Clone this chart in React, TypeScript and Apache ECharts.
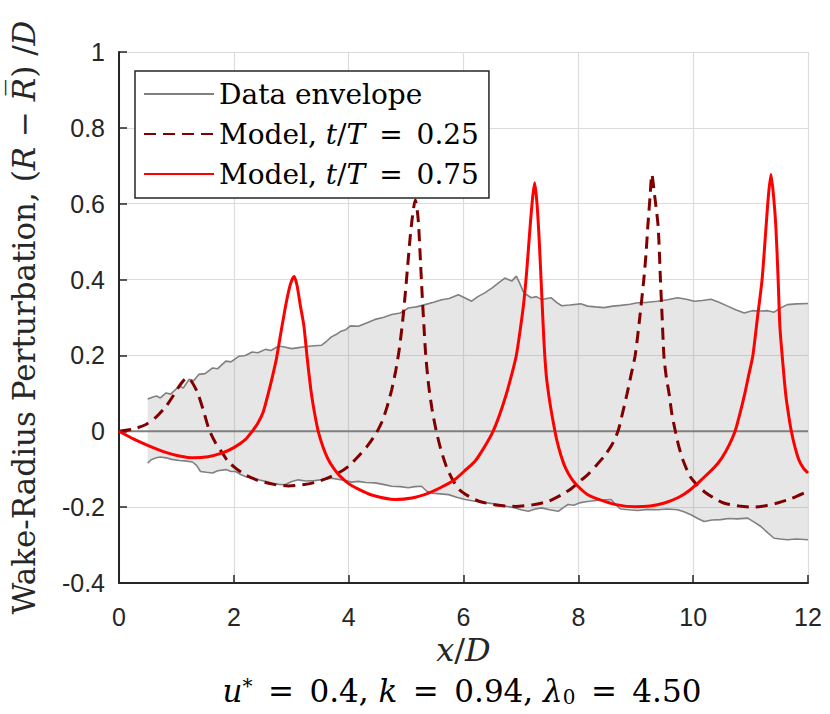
import React, { useEffect, useRef } from 'react';
import * as echarts from 'echarts';

// axis ranges
const X_MIN = 0;
const X_MAX = 12;
const X_STEP = 2;
const Y_MIN = -0.4;
const Y_MAX = 1;
const Y_STEP = 0.2;

const legendNames = ['Data envelope', 'Model, t/T = 0.25', 'Model, t/T = 0.75'];

// Upper edge of data envelope [x/D, value]
const envelopeUpper: [number, number][] = [
  [0.5, 0.085], [0.58, 0.09], [0.65, 0.093], [0.72, 0.088], [0.82, 0.101], [0.9, 0.098], [0.97, 0.108],
  [1.05, 0.119], [1.12, 0.114], [1.22, 0.137], [1.3, 0.133], [1.39, 0.15], [1.5, 0.152], [1.63, 0.167],
  [1.72, 0.165], [1.86, 0.185], [1.95, 0.183], [2.09, 0.198], [2.2, 0.2], [2.32, 0.209], [2.42, 0.207],
  [2.55, 0.216], [2.65, 0.213], [2.78, 0.225], [2.88, 0.222], [3.01, 0.218], [3.1, 0.22], [3.24, 0.223],
  [3.35, 0.225], [3.53, 0.227], [3.62, 0.238], [3.7, 0.249], [3.78, 0.255], [3.87, 0.264], [3.95, 0.268],
  [4.03, 0.278], [4.17, 0.277], [4.3, 0.285], [4.46, 0.295], [4.6, 0.3], [4.75, 0.308], [4.9, 0.312],
  [5.04, 0.325], [5.18, 0.328], [5.33, 0.334], [5.48, 0.34], [5.62, 0.347], [5.75, 0.35], [5.91, 0.36],
  [6.02, 0.352], [6.14, 0.343], [6.25, 0.355], [6.37, 0.365], [6.5, 0.378], [6.61, 0.391], [6.72, 0.404],
  [6.84, 0.396], [6.92, 0.409], [6.98, 0.39], [7.04, 0.369], [7.1, 0.36], [7.18, 0.352], [7.27, 0.355],
  [7.36, 0.347], [7.45, 0.35], [7.53, 0.352], [7.62, 0.34], [7.71, 0.331], [7.85, 0.333], [8.04, 0.336],
  [8.16, 0.33], [8.3, 0.328], [8.45, 0.326], [8.6, 0.33], [8.74, 0.332], [8.9, 0.335], [9.03, 0.339],
  [9.2, 0.34], [9.38, 0.343], [9.55, 0.347], [9.73, 0.352], [9.88, 0.348], [10.02, 0.343], [10.16, 0.345],
  [10.31, 0.348], [10.45, 0.34], [10.6, 0.33], [10.75, 0.32], [10.89, 0.312], [11.03, 0.318], [11.18, 0.317],
  [11.3, 0.318], [11.41, 0.314], [11.52, 0.325], [11.64, 0.334], [11.8, 0.336], [12, 0.337],
];

// Lower edge of data envelope [x/D, value]
const envelopeLower: [number, number][] = [
  [0.5, -0.084], [0.56, -0.075], [0.65, -0.07], [0.72, -0.068], [0.82, -0.07], [0.92, -0.074], [1.05, -0.077],
  [1.15, -0.078], [1.28, -0.081], [1.35, -0.09], [1.42, -0.106], [1.52, -0.108], [1.63, -0.11], [1.72, -0.104],
  [1.86, -0.101], [1.95, -0.106], [2.03, -0.106], [2.12, -0.114], [2.2, -0.119], [2.32, -0.124], [2.43, -0.128],
  [2.55, -0.132], [2.66, -0.137], [2.78, -0.14], [2.89, -0.141], [3.0, -0.133], [3.12, -0.128], [3.25, -0.131],
  [3.41, -0.13], [3.55, -0.127], [3.7, -0.124], [3.88, -0.128], [4.05, -0.134], [4.17, -0.132], [4.3, -0.135],
  [4.46, -0.136], [4.6, -0.14], [4.75, -0.145], [4.9, -0.146], [5.04, -0.149], [5.15, -0.146], [5.27, -0.145],
  [5.36, -0.158], [5.45, -0.163], [5.6, -0.165], [5.74, -0.167], [5.88, -0.174], [6.03, -0.18], [6.17, -0.184],
  [6.32, -0.187], [6.47, -0.19], [6.61, -0.193], [6.75, -0.198], [6.9, -0.202], [7.0, -0.207], [7.13, -0.211],
  [7.25, -0.205], [7.36, -0.202], [7.5, -0.207], [7.65, -0.211], [7.75, -0.2], [7.82, -0.193], [7.92, -0.195],
  [8.04, -0.188], [8.16, -0.185], [8.35, -0.182], [8.57, -0.18], [8.66, -0.195], [8.74, -0.205], [8.88, -0.207],
  [9.03, -0.209], [9.2, -0.206], [9.38, -0.207], [9.55, -0.205], [9.73, -0.207], [9.85, -0.213], [9.96, -0.22],
  [10.08, -0.23], [10.19, -0.238], [10.33, -0.234], [10.48, -0.233], [10.62, -0.23], [10.77, -0.231],
  [10.95, -0.229], [11.07, -0.24], [11.18, -0.251], [11.3, -0.268], [11.41, -0.282], [11.52, -0.284],
  [11.64, -0.286], [11.8, -0.284], [12, -0.286],
];

// Mean (zero) line
const zeroLine: [number, number][] = [[0, 0], [12, 0]];

// Model, t/T = 0.25 (dashed)
const modelQuarter: [number, number][] = [
  [0, 0], [0.25, 0.006], [0.47, 0.018], [0.65, 0.038], [0.82, 0.066], [0.95, 0.095], [1.05, 0.119],
  [1.12, 0.133], [1.19, 0.141], [1.27, 0.13], [1.37, 0.101], [1.47, 0.055], [1.57, 0.004], [1.68, -0.03],
  [1.8, -0.057], [1.9, -0.08], [2.03, -0.097], [2.2, -0.115], [2.43, -0.13], [2.7, -0.14], [2.95, -0.144],
  [3.2, -0.141], [3.41, -0.135], [3.62, -0.124], [3.82, -0.11], [3.99, -0.093], [4.17, -0.066], [4.32, -0.04],
  [4.48, -0.005], [4.58, 0.025], [4.67, 0.065], [4.75, 0.11], [4.82, 0.16], [4.88, 0.215], [4.94, 0.29],
  [4.99, 0.37], [5.03, 0.44], [5.07, 0.51], [5.11, 0.565], [5.16, 0.61], [5.21, 0.56], [5.25, 0.45],
  [5.28, 0.36], [5.31, 0.28], [5.34, 0.205], [5.39, 0.125], [5.45, 0.06], [5.52, 0.005], [5.6, -0.045],
  [5.7, -0.092], [5.8, -0.125], [5.93, -0.154], [6.1, -0.172], [6.28, -0.185], [6.6, -0.195],
  [6.91, -0.198], [7.2, -0.194], [7.47, -0.185], [7.7, -0.168], [7.87, -0.152], [8.04, -0.13], [8.16, -0.115],
  [8.3, -0.092], [8.45, -0.066], [8.58, -0.037], [8.69, 0.0], [8.77, 0.048], [8.85, 0.1], [8.92, 0.15],
  [8.99, 0.2], [9.07, 0.3], [9.14, 0.4], [9.18, 0.47], [9.21, 0.54], [9.25, 0.62], [9.28, 0.677],
  [9.33, 0.62], [9.39, 0.54], [9.43, 0.4], [9.46, 0.3], [9.49, 0.2], [9.53, 0.145], [9.58, 0.1],
  [9.63, 0.045], [9.69, 0.0], [9.75, -0.04], [9.82, -0.075], [9.95, -0.12], [10.09, -0.145], [10.2, -0.16],
  [10.35, -0.175], [10.53, -0.189], [10.8, -0.197], [11.06, -0.2], [11.3, -0.195], [11.47, -0.189],
  [11.7, -0.178], [12, -0.158],
];

// Model, t/T = 0.75 (solid red)
const modelThreeQuarter: [number, number][] = [
  [0, 0], [0.25, -0.02], [0.5, -0.037], [0.8, -0.055], [1.05, -0.065], [1.3, -0.07], [1.55, -0.067],
  [1.8, -0.057], [2.0, -0.043], [2.2, -0.022], [2.32, 0.0], [2.42, 0.022], [2.51, 0.05], [2.6, 0.1],
  [2.67, 0.143], [2.74, 0.19], [2.84, 0.278], [2.92, 0.345], [2.99, 0.39], [3.05, 0.408], [3.1, 0.385],
  [3.16, 0.33], [3.22, 0.278], [3.28, 0.19], [3.35, 0.1], [3.41, 0.045], [3.47, 0.0], [3.55, -0.04],
  [3.64, -0.073], [3.74, -0.098], [3.84, -0.117], [4.0, -0.138], [4.16, -0.152], [4.4, -0.168], [4.81, -0.18],
  [5.1, -0.176], [5.39, -0.163], [5.62, -0.147], [5.85, -0.127], [6.05, -0.1], [6.2, -0.079], [6.35, -0.045],
  [6.5, -0.005], [6.62, 0.04], [6.74, 0.095], [6.84, 0.15], [6.92, 0.2], [6.99, 0.27], [7.05, 0.34],
  [7.1, 0.42], [7.15, 0.52], [7.2, 0.61], [7.24, 0.655], [7.28, 0.6], [7.32, 0.5], [7.36, 0.37],
  [7.4, 0.24], [7.44, 0.15], [7.49, 0.09], [7.55, 0.035], [7.62, -0.02], [7.7, -0.065], [7.78, -0.098],
  [7.88, -0.125], [7.98, -0.143], [8.15, -0.166], [8.33, -0.178], [8.68, -0.194], [9.0, -0.199],
  [9.25, -0.197], [9.5, -0.189], [9.75, -0.174], [9.95, -0.154], [10.15, -0.127], [10.37, -0.095],
  [10.5, -0.07], [10.63, -0.035], [10.73, 0.0], [10.82, 0.05], [10.9, 0.1], [10.97, 0.15], [11.04, 0.2],
  [11.12, 0.3], [11.2, 0.4], [11.27, 0.54], [11.31, 0.62], [11.355, 0.677], [11.4, 0.62], [11.44, 0.54],
  [11.48, 0.4], [11.51, 0.277], [11.55, 0.2], [11.61, 0.1], [11.66, 0.045], [11.71, 0.0], [11.77, -0.04],
  [11.84, -0.075], [11.92, -0.097], [12, -0.11],
];

export default function App() {
  const ref = useRef<HTMLDivElement>(null);

  useEffect(() => {
    document.body.style.margin = '0';
    const chart = echarts.init(ref.current!, null, { renderer: 'svg' });
    const serifName = 'DejaVu Serif';
    const sans = 'Liberation Sans';
    const axisColor = '#262626';
    const italic = (size: number, color: string) => ({ fontFamily: serifName, fontStyle: 'italic', fontSize: size, color });
    const upright = (size: number, color: string) => ({ fontFamily: serifName, fontStyle: 'normal', fontSize: size, color });
    const sp = '\u2002';

    chart.setOption({
      animation: false,
      backgroundColor: '#ffffff',
      textStyle: { fontFamily: serifName },
      grid: { left: 117, right: 22, top: 52, bottom: 131 },
      xAxis: {
        type: 'value',
        min: X_MIN,
        max: X_MAX,
        interval: X_STEP,
        name: '{i|x}{n|/}{i|D}',
        nameLocation: 'middle',
        nameGap: 50,
        nameTextStyle: {
          fontFamily: serifName,
          fontSize: 32,
          color: axisColor,
          rich: { i: italic(32, axisColor), n: upright(32, axisColor) },
        },
        axisLine: { onZero: false, lineStyle: { color: axisColor, width: 2 } },
        axisTick: { inside: true, length: 8, lineStyle: { color: axisColor, width: 1.5 } },
        axisLabel: { fontFamily: sans, fontSize: 25, color: axisColor, margin: 21 },
        splitLine: { show: true, lineStyle: { color: '#dcdcdc', width: 1.2 } },
      },
      yAxis: {
        type: 'value',
        min: Y_MIN,
        max: Y_MAX,
        interval: Y_STEP,
        name: '{n|Wake-Radius Perturbation, (}{i|R}{n| − }{i|R\u0305}{n|) /}{i|D}',
        nameLocation: 'middle',
        nameGap: 80,
        nameTextStyle: {
          fontFamily: serifName,
          fontSize: 31,
          color: axisColor,
          rich: { i: italic(31, axisColor), n: upright(31, axisColor) },
        },
        axisLine: { show: true, onZero: false, lineStyle: { color: axisColor, width: 2 } },
        axisTick: { show: true, inside: true, length: 8, lineStyle: { color: axisColor, width: 1.5 } },
        axisLabel: {
          fontFamily: sans,
          fontSize: 25,
          color: axisColor,
          margin: 14,
          formatter: (v: number) => String(Math.round(v * 10) / 10),
        },
        splitLine: { show: true, lineStyle: { color: '#dcdcdc', width: 1.2 } },
      },
      legend: {
        data: legendNames,
        orient: 'vertical',
        left: 135,
        top: 71,
        padding: [9, 10, 10, 8],
        itemGap: 12,
        itemWidth: 70,
        itemHeight: 14,
        backgroundColor: '#ffffff',
        borderColor: axisColor,
        borderWidth: 1.5,
        borderRadius: 0,
        selectedMode: false,
        itemStyle: { opacity: 0 },
        textStyle: {
          fontFamily: serifName,
          fontSize: 28,
          color: '#000',
          rich: { i: italic(28, '#000'), n: upright(28, '#000') },
        },
        formatter: (name: string) =>
          name.replace('t/T', '{i|t}/{i|T}').replace(' = ', sp + '=' + sp),
      },
      graphic: [
        {
          type: 'text',
          x: 462,
          y: 691,
          style: {
            text: `{n|}{i|u}{sup|*}{n|${sp}=${sp}0.4, }{i|k}{n|${sp}=${sp}0.94, }{i|λ}{sub|0}{n|${sp}=${sp}4.50}`,
            font: `31px ${serifName}`,
            fill: '#000',
            align: 'center',
            verticalAlign: 'middle',
            rich: {
              n: { font: `31px ${serifName}`, fill: '#000' },
              i: { font: `italic 31px ${serifName}`, fill: '#000' },
              sup: { font: `20px ${serifName}`, fill: '#000', verticalAlign: 'top' },
              sub: { font: `20px ${serifName}`, fill: '#000', verticalAlign: 'bottom' },
            },
          },
        },
      ],
      series: [
        {
          type: 'line',
          name: 'Data envelope',
          data: envelopeUpper,
          symbol: 'none',
          z: 2,
          lineStyle: { color: '#808080', width: 1.6 },
          itemStyle: { color: '#808080' },
          areaStyle: { color: 'rgba(128,128,128,0.2)', opacity: 1, origin: 'auto' },
        },
        {
          type: 'line',
          name: 'envelope lower',
          data: envelopeLower,
          symbol: 'none',
          z: 2,
          lineStyle: { color: '#808080', width: 1.6 },
          itemStyle: { color: '#808080' },
          areaStyle: { color: 'rgba(128,128,128,0.2)', opacity: 1, origin: 'auto' },
        },
        {
          type: 'line',
          name: 'mean',
          data: zeroLine,
          symbol: 'none',
          z: 3,
          lineStyle: { color: '#7f7f7f', width: 2 },
        },
        {
          type: 'line',
          name: legendNames[1],
          data: modelQuarter,
          symbol: 'none',
          smooth: 0.25,
          z: 4,
          lineStyle: { color: '#800000', width: 3, type: [12, 7] },
          itemStyle: { color: '#800000' },
        },
        {
          type: 'line',
          name: legendNames[2],
          data: modelThreeQuarter,
          symbol: 'none',
          smooth: 0.25,
          z: 5,
          lineStyle: { color: '#ff0000', width: 3 },
          itemStyle: { color: '#ff0000' },
        },
      ],
    });
    return () => chart.dispose();
  }, []);

  return <div ref={ref} style={{ width: 830, height: 714 }} />;
}
